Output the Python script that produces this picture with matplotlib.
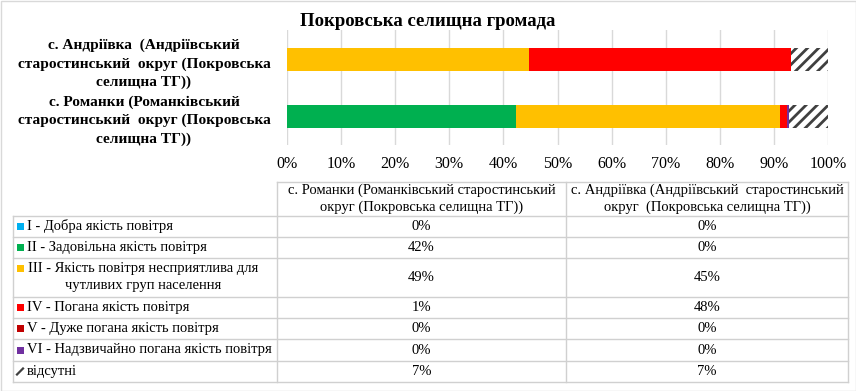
import matplotlib
matplotlib.use("Agg")
import matplotlib.pyplot as plt
from matplotlib.lines import Line2D
from matplotlib.patches import Rectangle

# ---------------- data ----------------
title = "Покровська селищна громада"
categories = [
    "с. Романки (Романківський\nстаростинський  округ (Покровська\nселищна ТГ))",
    "с. Андріївка  (Андріївський\nстаростинський  округ (Покровська\nселищна ТГ))",
]
table_headers = [
    "с. Романки (Романківський старостинський\nокруг (Покровська селищна ТГ))",
    "с. Андріївка (Андріївський  старостинський\nокруг  (Покровська селищна ТГ))",
]
level_names = [
    "I - Добра якість повітря",
    "II - Задовільна якість повітря",
    "III - Якість повітря несприятлива для\nчутливих груп населення",
    "IV - Погана якість повітря",
    "V - Дуже погана якість повітря",
    "VI - Надзвичайно погана якість повітря",
    "відсутні",
]
level_colors = ["#00B0F0", "#00B050", "#FFC000", "#FF0000", "#C00000", "#7030A0", "white"]
romanky = [0.0, 42.3, 48.8, 1.4, 0.0, 0.2, 7.3]
andriivka = [0.0, 0.0, 44.7, 48.4, 0.0, 0.0, 6.9]
xticks = [0, 10, 20, 30, 40, 50, 60, 70, 80, 90, 100]

series = [romanky, andriivka]  # y = 0 (bottom), y = 1 (top)

plt.rcParams["font.family"] = ["Liberation Serif", "DejaVu Serif"]
plt.rcParams["hatch.linewidth"] = 2.0

W, H = 856, 391
fig = plt.figure(figsize=(W / 100, H / 100), dpi=100)

def fx(px):
    return px / W

def fy(py):
    return 1 - py / H

ax = fig.add_axes([fx(287), fy(145), fx(828) - fx(287), fy(30) - fy(145)])

ypos = [0, 1]
for yi, vals in zip(ypos, series):
    left = 0.0
    for li, v in enumerate(vals):
        if li == len(vals) - 1:
            ax.barh(yi, v, left=left, height=0.41, color="white",
                    edgecolor="#404040", linewidth=0, hatch="///", zorder=3)
        else:
            ax.barh(yi, v, left=left, height=0.41, color=level_colors[li],
                    linewidth=0, zorder=3)
        left += v

ax.set_xlim(0, 100)
ax.set_ylim(-0.5, 1.52)
ax.set_xticks(xticks)
ax.set_xticklabels([f"{t}%" for t in xticks], fontsize=11.5)
ax.xaxis.grid(True, color="#D9D9D9", linewidth=1, zorder=0)
ax.set_axisbelow(True)
for s in ax.spines.values():
    s.set_visible(False)
ax.tick_params(axis="x", length=0, pad=8)
ax.set_yticks(ypos)
ax.set_yticklabels(categories, fontsize=11.1, fontweight="bold")
ax.tick_params(axis="y", length=0, pad=103)
for lab in ax.get_yticklabels():
    lab.set_ha("center")
    lab.set_multialignment("center")
    lab.set_linespacing(1.5)

fig.text(fx(428), fy(21), title, ha="center", va="center",
         fontsize=13.5, fontweight="bold")

# ---------------- data table ----------------
grid_c = "#D0D0D0"
col_x = [13, 277, 566, 848]
row_y = [182, 215.5, 237, 258, 296.5, 318, 339, 361, 382]

def hline(y, x0, x1):
    fig.add_artist(Line2D([fx(x0), fx(x1)], [fy(y), fy(y)], color=grid_c,
                          linewidth=1, transform=fig.transFigure))

def vline(x, y0, y1):
    fig.add_artist(Line2D([fx(x), fx(x)], [fy(y0), fy(y1)], color=grid_c,
                          linewidth=1, transform=fig.transFigure))

hline(row_y[0], col_x[1], col_x[3])
for y in row_y[1:]:
    hline(y, col_x[0], col_x[3])
vline(col_x[0], row_y[1], row_y[-1])
for x in col_x[1:]:
    vline(x, row_y[0], row_y[-1])

tfs = 10.5
line_h = 17.5

def centered_lines(cx, cy, text):
    lines = text.split("\n")
    n = len(lines)
    for i, ln in enumerate(lines):
        y = cy + (i - (n - 1) / 2) * line_h
        fig.text(fx(cx), fy(y), ln, ha="center", va="center", fontsize=tfs)

for ci, hdr in enumerate(table_headers):
    cx = (col_x[ci + 1] + col_x[ci + 2]) / 2
    centered_lines(cx, (row_y[0] + row_y[1]) / 2, hdr)

for ri, name in enumerate(level_names):
    cy = (row_y[ri + 1] + row_y[ri + 2]) / 2
    if "\n" in name:
        ky = cy - line_h / 2
    else:
        ky = cy
    # legend key
    if ri == len(level_names) - 1:
        fig.add_artist(Line2D([fx(17), fx(23)], [fy(ky + 3), fy(ky - 3)],
                              color="#404040", linewidth=1.6,
                              transform=fig.transFigure))
    else:
        fig.add_artist(Rectangle((fx(17), fy(ky + 3.5)), fx(7), 7 / H,
                                 facecolor=level_colors[ri], edgecolor="none",
                                 transform=fig.transFigure))
    if "\n" in name:
        centered_lines(143, cy, name)
    else:
        fig.text(fx(27), fy(cy), name, ha="left", va="center", fontsize=tfs)
    for ci, vals in enumerate([romanky, andriivka]):
        cx = (col_x[ci + 1] + col_x[ci + 2]) / 2
        fig.text(fx(cx), fy(cy), f"{round(vals[ri])}%", ha="center", va="center",
                 fontsize=tfs)

# chart border
fig.add_artist(Rectangle((fx(0.5), fy(390.5)), fx(855), 390 / H, facecolor="none",
                         edgecolor="#D9D9D9", linewidth=1, transform=fig.transFigure))

fig.savefig("out.png", dpi=100)
